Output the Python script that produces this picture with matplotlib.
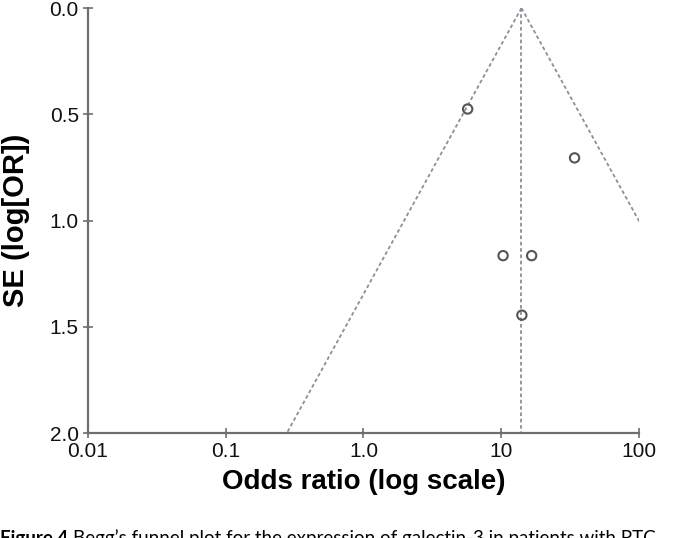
import numpy as np
import matplotlib
matplotlib.use("Agg")
import matplotlib.pyplot as plt
from matplotlib.ticker import FixedLocator, NullLocator

# study estimates
odds_ratio = [5.7, 34.0, 10.3, 16.6, 14.1]
se_log_or = [0.475, 0.705, 1.165, 1.165, 1.445]
pooled_or = 14.0

x_ticks = [0.01, 0.1, 1.0, 10, 100]
x_tick_labels = ["0.01", "0.1", "1.0", "10", "100"]
y_ticks = [0.0, 0.5, 1.0, 1.5, 2.0]
y_tick_labels = ["0.0", "0.5", "1.0", "1.5", "2.0"]

line_col = "#8c8f96"
axis_col = "#6e6e6e"

fig = plt.figure(figsize=(6.97, 5.38), dpi=100)
ax = fig.add_axes([0.126, 0.195, 0.791, 0.79])

# funnel: pooled estimate +/- 1.96 SE on the log scale
se_grid = np.array([0.0, 2.0])
ln_pooled = np.log(pooled_or)
ax.plot(np.exp(ln_pooled - 1.96 * se_grid), se_grid, ls=(0, (2, 1.5)), color=line_col, lw=1.3)
ax.plot(np.exp(ln_pooled + 1.96 * se_grid), se_grid, ls=(0, (2, 1.5)), color=line_col, lw=1.3)
ax.plot([pooled_or, pooled_or], [0.0, 2.0], ls=(0, (2, 1.5)), color=line_col, lw=1.3)

ax.scatter(odds_ratio, se_log_or, s=45, facecolors="none", edgecolors="#555555", linewidths=1.5, zorder=3)

ax.set_xscale("log")
ax.set_xlim(0.01, 100)
ax.set_ylim(2.0, 0.0)
ax.xaxis.set_major_locator(FixedLocator(x_ticks))
ax.xaxis.set_minor_locator(NullLocator())
ax.set_xticklabels(x_tick_labels)
ax.set_yticks(y_ticks)
ax.set_yticklabels(y_tick_labels)

for side in ["top", "right"]:
    ax.spines[side].set_visible(False)
for side in ["left", "bottom"]:
    ax.spines[side].set_color(axis_col)
    ax.spines[side].set_linewidth(1.6)
ax.tick_params(axis="both", direction="inout", length=7, width=1.2, color=axis_col,
               labelsize=15, labelcolor="#111111", pad=3)
for lab in ax.get_xticklabels() + ax.get_yticklabels():
    lab.set_family("Liberation Sans")

ax.set_xlabel("Odds ratio (log scale)", fontsize=20, fontweight="bold", family="Liberation Sans", labelpad=6)
ax.set_ylabel("SE (log[OR])", fontsize=21, fontweight="bold", family="Liberation Sans", labelpad=14)

# caption cut off at the lower edge of the crop
cap1 = fig.text(0.0, -0.011, "Figure 4 ", fontsize=13.5, fontweight="bold", family="Lato",
                va="baseline", ha="left")
fig.canvas.draw()
bb = cap1.get_window_extent(fig.canvas.get_renderer())
fig.text(bb.x1 / fig.bbox.width, -0.011,
         "Begg\u2019s funnel plot for the expression of galectin-3 in patients with PTC.",
         fontsize=13.5, family="Lato", va="baseline", ha="left")

fig.savefig("out.png", dpi=100)
